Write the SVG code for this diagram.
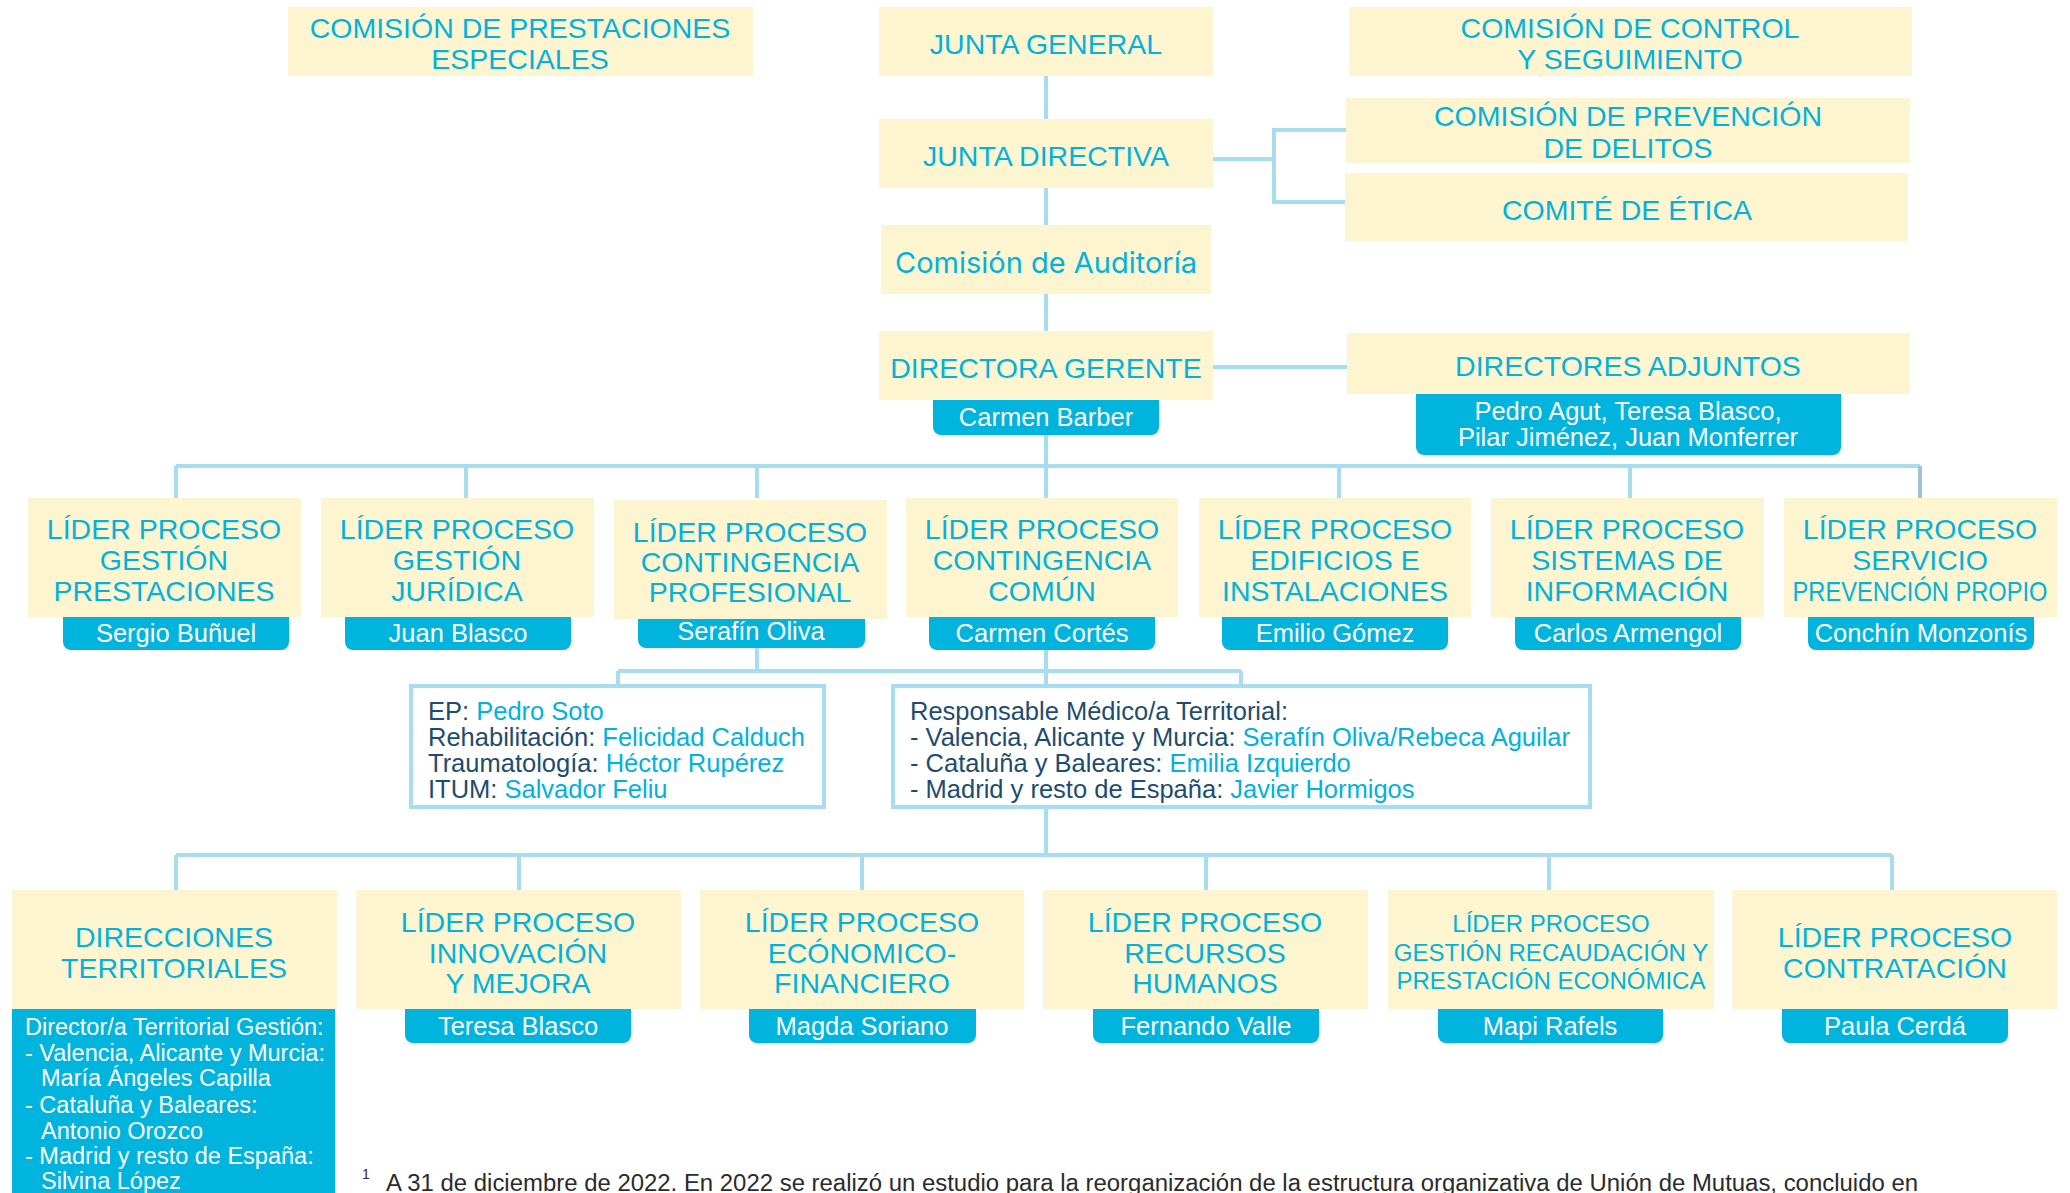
<svg xmlns="http://www.w3.org/2000/svg" width="2070" height="1193" viewBox="0 0 2070 1193">
<style>
  .box{fill:#fdf5cf}
  .pill{fill:#00b4de}
  .obox{fill:#ffffff;stroke:#a8ddf0;stroke-width:4}
  .t{font-family:"Liberation Sans",Arial,sans-serif;font-size:28.5px;fill:#00b2dc;text-anchor:middle}
  .ts{font-size:24px}
  .ca{font-family:Inter,"Open Sans",sans-serif;font-size:29px;fill:#00b2dc;text-anchor:middle}
  .n{font-family:"Liberation Sans",Arial,sans-serif;font-size:25.5px;fill:#ffffff;text-anchor:middle}
  .d{font-family:"Liberation Sans",Arial,sans-serif;font-size:25.5px;fill:#1d4d6e}
  .c{fill:#00b2dc}
  .w{font-family:"Liberation Sans",Arial,sans-serif;font-size:23.5px;fill:#ffffff}
  .fn{font-family:"Liberation Sans",Arial,sans-serif;font-size:23px;fill:#2b2b2b}
  .con{fill:none;stroke:#a8ddf0;stroke-width:4}
</style>
<rect width="2070" height="1193" fill="#ffffff"/>
<g id="connectors">
  <path class="con" d="M1046 76 V119 M1046 188 V225 M1046 294 V331 M1046 400 V466"/>
  <path class="con" d="M1213 159 H1274 M1346 130 H1274 V202 H1346"/>
  <path class="con" d="M1213 367 H1347"/>
  <path class="con" d="M176 466 H1920 M176 466 V498 M466 466 V498 M757 466 V498 M1046 466 V498 M1339 466 V498 M1630 466 V498"/>
  <path d="M1920 466 V498" fill="none" stroke="#9fc3d6" stroke-width="4"/>
  <path class="con" d="M757 648 V671 M1046 650 V685 M618 671 H1241 M618 671 V685 M1241 671 V685"/>
  <path class="con" d="M1046 808 V855 M176 855 H1892 M176 855 V890 M519 855 V890 M862 855 V890 M1206 855 V890 M1549 855 V890 M1892 855 V890"/>
</g>
<g id="cpe"><rect class="box" x="288" y="7" width="465" height="69"/><text class="t" x="520" y="38">COMISIÓN DE PRESTACIONES</text><text class="t" x="520" y="69">ESPECIALES</text></g>
<g id="junta-general"><rect class="box" x="879" y="7" width="334" height="69"/><text class="t" x="1046" y="54">JUNTA GENERAL</text></g>
<g id="ccs"><rect class="box" x="1349" y="7" width="563" height="69"/><text class="t" x="1630" y="38">COMISIÓN DE CONTROL</text><text class="t" x="1630" y="69">Y SEGUIMIENTO</text></g>
<g id="junta-directiva"><rect class="box" x="879" y="119" width="334" height="69"/><text class="t" x="1046" y="166">JUNTA DIRECTIVA</text></g>
<g id="cpd"><rect class="box" x="1346" y="98" width="564" height="65"/><text class="t" x="1628" y="126">COMISIÓN DE PREVENCIÓN</text><text class="t" x="1628" y="158">DE DELITOS</text></g>
<g id="etica"><rect class="box" x="1345" y="173" width="563" height="68"/><text class="t" x="1627" y="220">COMITÉ DE ÉTICA</text></g>
<g id="auditoria"><rect class="box" x="881" y="225" width="330" height="69"/><text class="ca" x="1046" y="273">Comisión de Auditoría</text></g>
<g id="directora"><rect class="box" x="879" y="331" width="334" height="69"/><text class="t" x="1046" y="378">DIRECTORA GERENTE</text>
  <path class="pill" d="M933 400 H1159 V427 A8 8 0 0 1 1151 435 H941 A8 8 0 0 1 933 427 Z"/><text class="n" x="1046" y="426">Carmen Barber</text></g>
<g id="adjuntos"><rect class="box" x="1347" y="333" width="563" height="61"/><text class="t" x="1628" y="376">DIRECTORES ADJUNTOS</text>
  <path class="pill" d="M1416 394 H1841 V447 A8 8 0 0 1 1833 455 H1424 A8 8 0 0 1 1416 447 Z"/><text class="n" x="1628" y="420">Pedro Agut, Teresa Blasco,</text><text class="n" x="1628" y="446">Pilar Jiménez, Juan Monferrer</text></g>

<g id="lp-prestaciones"><rect class="box" x="28" y="498" width="273" height="119"/><text class="t" x="164" y="539">LÍDER PROCESO</text><text class="t" x="164" y="570">GESTIÓN</text><text class="t" x="164" y="601">PRESTACIONES</text>
  <path class="pill" d="M63 617 H289 V642 A8 8 0 0 1 281 650 H71 A8 8 0 0 1 63 642 Z"/><text class="n" x="176" y="642">Sergio Buñuel</text></g>
<g id="lp-juridica"><rect class="box" x="321" y="498" width="273" height="119"/><text class="t" x="457" y="539">LÍDER PROCESO</text><text class="t" x="457" y="570">GESTIÓN</text><text class="t" x="457" y="601">JURÍDICA</text>
  <path class="pill" d="M345 617 H571 V642 A8 8 0 0 1 563 650 H353 A8 8 0 0 1 345 642 Z"/><text class="n" x="458" y="642">Juan Blasco</text></g>
<g id="lp-profesional"><rect class="box" x="614" y="500" width="273" height="119"/><text class="t" x="750" y="542">LÍDER PROCESO</text><text class="t" x="750" y="572">CONTINGENCIA</text><text class="t" x="750" y="602">PROFESIONAL</text>
  <path class="pill" d="M638 619 H865 V640 A8 8 0 0 1 857 648 H646 A8 8 0 0 1 638 640 Z"/><text class="n" x="751" y="640">Serafín Oliva</text></g>
<g id="lp-comun"><rect class="box" x="906" y="498" width="272" height="119"/><text class="t" x="1042" y="539">LÍDER PROCESO</text><text class="t" x="1042" y="570">CONTINGENCIA</text><text class="t" x="1042" y="601">COMÚN</text>
  <path class="pill" d="M929 617 H1155 V642 A8 8 0 0 1 1147 650 H937 A8 8 0 0 1 929 642 Z"/><text class="n" x="1042" y="642">Carmen Cortés</text></g>
<g id="lp-edificios"><rect class="box" x="1199" y="498" width="272" height="119"/><text class="t" x="1335" y="539">LÍDER PROCESO</text><text class="t" x="1335" y="570">EDIFICIOS E</text><text class="t" x="1335" y="601">INSTALACIONES</text>
  <path class="pill" d="M1222 617 H1448 V642 A8 8 0 0 1 1440 650 H1230 A8 8 0 0 1 1222 642 Z"/><text class="n" x="1335" y="642">Emilio Gómez</text></g>
<g id="lp-sistemas"><rect class="box" x="1491" y="498" width="273" height="119"/><text class="t" x="1627" y="539">LÍDER PROCESO</text><text class="t" x="1627" y="570">SISTEMAS DE</text><text class="t" x="1627" y="601">INFORMACIÓN</text>
  <path class="pill" d="M1515 617 H1741 V642 A8 8 0 0 1 1733 650 H1523 A8 8 0 0 1 1515 642 Z"/><text class="n" x="1628" y="642">Carlos Armengol</text></g>
<g id="lp-prevencion"><rect class="box" x="1784" y="498" width="273" height="119"/><text class="t" x="1920" y="539">LÍDER PROCESO</text><text class="t" x="1920" y="570">SERVICIO</text><text class="t" x="0" y="0" transform="translate(1920 601) scale(0.83 1)">PREVENCIÓN PROPIO</text>
  <path class="pill" d="M1808 617 H2034 V642 A8 8 0 0 1 2026 650 H1816 A8 8 0 0 1 1808 642 Z"/><text class="n" x="1921" y="642">Conchín Monzonís</text></g>

<g id="contingencia-profesional-detalle"><rect class="obox" x="411" y="686" width="413" height="121"/>
  <text class="d" x="428" y="720">EP: <tspan class="c">Pedro Soto</tspan></text>
  <text class="d" x="428" y="746">Rehabilitación: <tspan class="c">Felicidad Calduch</tspan></text>
  <text class="d" x="428" y="772">Traumatología: <tspan class="c">Héctor Rupérez</tspan></text>
  <text class="d" x="428" y="798">ITUM: <tspan class="c">Salvador Feliu</tspan></text></g>
<g id="contingencia-comun-detalle"><rect class="obox" x="893" y="686" width="697" height="121"/>
  <text class="d" x="910" y="720">Responsable Médico/a Territorial:</text>
  <text class="d" x="910" y="746">- Valencia, Alicante y Murcia: <tspan class="c">Serafín Oliva/Rebeca Aguilar</tspan></text>
  <text class="d" x="910" y="772">- Cataluña y Baleares: <tspan class="c">Emilia Izquierdo</tspan></text>
  <text class="d" x="910" y="798">- Madrid y resto de España: <tspan class="c">Javier Hormigos</tspan></text></g>

<g id="direcciones-territoriales"><rect class="box" x="12" y="890" width="325" height="119"/><text class="t" x="174" y="947">DIRECCIONES</text><text class="t" x="174" y="978">TERRITORIALES</text>
  <rect class="pill" x="12" y="1009" width="323" height="190"/>
  <text class="w" x="25" y="1035">Director/a Territorial Gestión:</text>
  <text class="w" x="25" y="1061">- Valencia, Alicante y Murcia:</text>
  <text class="w" x="41" y="1086">María Ángeles Capilla</text>
  <text class="w" x="25" y="1113">- Cataluña y Baleares:</text>
  <text class="w" x="41" y="1139">Antonio Orozco</text>
  <text class="w" x="25" y="1164">- Madrid y resto de España:</text>
  <text class="w" x="41" y="1189">Silvina López</text></g>
<g id="lp-innovacion"><rect class="box" x="356" y="890" width="325" height="119"/><text class="t" x="518" y="932">LÍDER PROCESO</text><text class="t" x="518" y="963">INNOVACIÓN</text><text class="t" x="518" y="993">Y MEJORA</text>
  <path class="pill" d="M405 1009 H631 V1035 A8 8 0 0 1 623 1043 H413 A8 8 0 0 1 405 1035 Z"/><text class="n" x="518" y="1035">Teresa Blasco</text></g>
<g id="lp-economico"><rect class="box" x="700" y="890" width="324" height="119"/><text class="t" x="862" y="932">LÍDER PROCESO</text><text class="t" x="862" y="963">ECÓNOMICO-</text><text class="t" x="862" y="993">FINANCIERO</text>
  <path class="pill" d="M749 1009 H976 V1035 A8 8 0 0 1 968 1043 H757 A8 8 0 0 1 749 1035 Z"/><text class="n" x="862" y="1035">Magda Soriano</text></g>
<g id="lp-rrhh"><rect class="box" x="1043" y="890" width="325" height="119"/><text class="t" x="1205" y="932">LÍDER PROCESO</text><text class="t" x="1205" y="963">RECURSOS</text><text class="t" x="1205" y="993">HUMANOS</text>
  <path class="pill" d="M1093 1009 H1319 V1035 A8 8 0 0 1 1311 1043 H1101 A8 8 0 0 1 1093 1035 Z"/><text class="n" x="1206" y="1035">Fernando Valle</text></g>
<g id="lp-recaudacion"><rect class="box" x="1388" y="890" width="326" height="119"/><text class="t ts" x="1551" y="932">LÍDER PROCESO</text><text class="t ts" x="1551" y="961">GESTIÓN RECAUDACIÓN Y</text><text class="t ts" x="1551" y="989">PRESTACIÓN ECONÓMICA</text>
  <path class="pill" d="M1438 1009 H1663 V1035 A8 8 0 0 1 1655 1043 H1446 A8 8 0 0 1 1438 1035 Z"/><text class="n" x="1550" y="1035">Mapi Rafels</text></g>
<g id="lp-contratacion"><rect class="box" x="1732" y="890" width="325" height="119"/><text class="t" x="1895" y="947">LÍDER PROCESO</text><text class="t" x="1895" y="978">CONTRATACIÓN</text>
  <path class="pill" d="M1782 1009 H2008 V1035 A8 8 0 0 1 2000 1043 H1790 A8 8 0 0 1 1782 1035 Z"/><text class="n" x="1895" y="1035">Paula Cerdá</text></g>

<g id="footnote"><text class="fn" x="362" y="1179" style="font-size:14px">1</text>
  <text class="fn" x="386" y="1191" textLength="1532" lengthAdjust="spacingAndGlyphs">A 31 de diciembre de 2022. En 2022 se realizó un estudio para la reorganización de la estructura organizativa de Unión de Mutuas, concluido en</text></g>
</svg>
